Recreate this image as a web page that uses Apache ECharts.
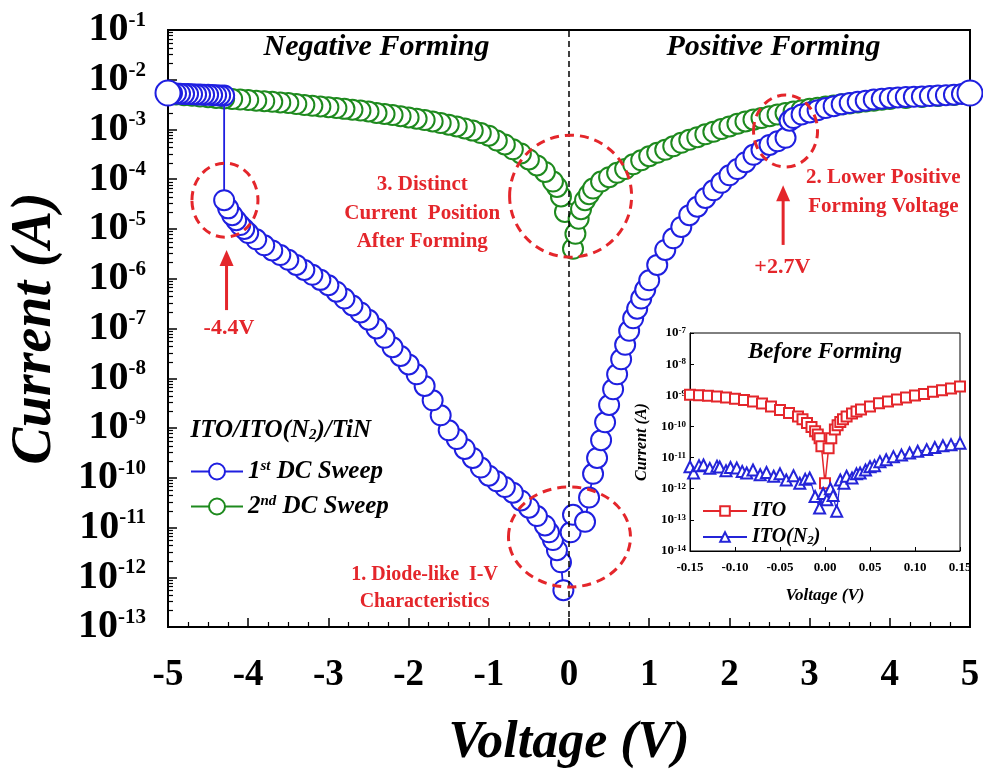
<!DOCTYPE html>
<html><head><meta charset="utf-8">
<script src="https://cdn.jsdelivr.net/npm/echarts@6/dist/echarts.min.js"></script>
<style>html,body{margin:0;padding:0;background:#fff}#c{width:983px;height:777px}</style>
</head><body><div id="c"></div>
<script>
// ---------------- data ----------------
// Main chart: 1st DC sweep (blue), negative branch (0 -> -5 V, forming at -4.3 V)
const blueNegV = [-0.07,-0.1,-0.15,-0.2,-0.25,-0.3,-0.4,-0.5,-0.6,-0.7,-0.8,-0.9,-1.0,-1.1,-1.2,-1.3,-1.4,-1.5,-1.6,-1.7,-1.8,-1.9,-2.0,-2.1,-2.2,-2.3,-2.4,-2.5,-2.6,-2.7,-2.8,-2.9,-3.0,-3.1,-3.2,-3.3,-3.4,-3.5,-3.6,-3.7,-3.8,-3.9,-4.0,-4.05,-4.1,-4.15,-4.2,-4.25,-4.3,-4.3,-4.35,-4.4,-4.45,-4.5,-4.55,-4.6,-4.65,-4.7,-4.75,-4.8,-4.85,-4.9,-4.95,-5.0];
const blueNegI = [5.5e-13,2e-12,3.5e-12,5.6e-12,8e-12,1.1e-11,1.7e-11,2.5e-11,3.5e-11,5e-11,6.5e-11,8.5e-11,1.1e-10,1.6e-10,2.5e-10,3.8e-10,6e-10,9e-10,1.8e-9,3.6e-9,7e-9,1.2e-8,1.9e-8,2.8e-8,4.2e-8,6.5e-8,1e-7,1.5e-7,2.1e-7,2.9e-7,4e-7,5.5e-7,7.4e-7,9.5e-7,1.2e-6,1.5e-6,1.9e-6,2.4e-6,3e-6,3.7e-6,4.7e-6,6.2e-6,8.3e-6,1e-5,1.2e-5,1.5e-5,1.9e-5,2.6e-5,3.8e-5,4.8e-3,4.85e-3,4.9e-3,4.95e-3,5e-3,5.02e-3,5.05e-3,5.08e-3,5.1e-3,5.15e-3,5.2e-3,5.25e-3,5.3e-3,5.35e-3,5.4e-3];
// 1st DC sweep (blue), positive branch (0 -> +5 V, forming at +2.7 V)
const bluePosV = [0.02,0.05,0.2,0.25,0.3,0.35,0.4,0.45,0.5,0.55,0.6,0.65,0.7,0.75,0.8,0.85,0.9,0.95,1.0,1.1,1.2,1.3,1.4,1.5,1.6,1.7,1.8,1.9,2.0,2.1,2.2,2.3,2.4,2.5,2.6,2.7,2.75,2.8,2.9,3.0,3.1,3.2,3.3,3.4,3.5,3.6,3.7,3.8,3.9,4.0,4.1,4.2,4.3,4.4,4.5,4.6,4.7,4.8,4.9,5.0];
const bluePosI = [8e-12,1.8e-11,1.3e-11,4e-11,1.2e-10,2.5e-10,5.7e-10,1.3e-9,2.9e-9,6e-9,1.2e-8,2.4e-8,4.7e-8,9e-8,1.6e-7,2.5e-7,4e-7,6e-7,9.3e-7,1.9e-6,3.8e-6,6.5e-6,1.1e-5,1.9e-5,2.8e-5,4.2e-5,6e-5,8.5e-5,1.2e-4,1.6e-4,2.2e-4,3.1e-4,3.9e-4,4.9e-4,5.8e-4,6.8e-4,1.5e-3,1.7e-3,2e-3,2.2e-3,2.45e-3,2.7e-3,2.95e-3,3.2e-3,3.4e-3,3.6e-3,3.8e-3,4e-3,4.15e-3,4.3e-3,4.4e-3,4.5e-3,4.55e-3,4.6e-3,4.7e-3,4.8e-3,4.9e-3,5e-3,5.2e-3,5.4e-3];
// 2nd DC sweep (green)
const greenNegV = [-0.05,-0.1,-0.15,-0.2,-0.3,-0.4,-0.5,-0.6,-0.7,-0.8,-0.9,-1.0,-1.1,-1.2,-1.3,-1.4,-1.5,-1.6,-1.7,-1.8,-1.9,-2.0,-2.1,-2.2,-2.3,-2.4,-2.5,-2.6,-2.7,-2.8,-2.9,-3.0,-3.1,-3.2,-3.3,-3.4,-3.5,-3.6,-3.7,-3.8,-3.9,-4.0,-4.1,-4.2,-4.3,-4.4,-4.5,-4.6,-4.7,-4.8,-4.9,-5.0];
const greenNegI = [2.2e-5,4.5e-5,7e-5,9e-5,1.4e-4,1.9e-4,2.5e-4,3.3e-4,4e-4,5e-4,6e-4,7.5e-4,8.5e-4,9.5e-4,1.05e-3,1.15e-3,1.25e-3,1.35e-3,1.45e-3,1.55e-3,1.65e-3,1.75e-3,1.85e-3,1.95e-3,2.05e-3,2.15e-3,2.3e-3,2.4e-3,2.5e-3,2.6e-3,2.7e-3,2.8e-3,2.9e-3,3e-3,3.1e-3,3.25e-3,3.4e-3,3.5e-3,3.6e-3,3.7e-3,3.8e-3,3.9e-3,4e-3,4.1e-3,4.2e-3,4.3e-3,4.45e-3,4.6e-3,4.75e-3,4.9e-3,5.05e-3,5.2e-3];
const greenPosV = [0.05,0.08,0.12,0.15,0.2,0.25,0.3,0.4,0.5,0.6,0.7,0.8,0.9,1.0,1.1,1.2,1.3,1.4,1.5,1.6,1.7,1.8,1.9,2.0,2.1,2.2,2.3,2.4,2.5,2.6,2.7,2.8,2.9,3.0,3.1,3.2,3.3,3.4,3.5,3.6,3.7,3.8,3.9,4.0,4.2,4.4,4.6,4.8,5.0];
const greenPosI = [4e-6,8e-6,1.6e-5,2.5e-5,3.8e-5,5e-5,6.5e-5,9e-5,1.1e-4,1.35e-4,1.6e-4,2e-4,2.4e-4,2.9e-4,3.4e-4,3.9e-4,4.6e-4,5.4e-4,6.2e-4,7e-4,8e-4,9e-4,1.02e-3,1.15e-3,1.3e-3,1.45e-3,1.58e-3,1.7e-3,1.85e-3,2e-3,2.15e-3,2.3e-3,2.45e-3,2.6e-3,2.75e-3,2.9e-3,3.05e-3,3.2e-3,3.35e-3,3.5e-3,3.65e-3,3.8e-3,3.95e-3,4.1e-3,4.3e-3,4.5e-3,4.7e-3,4.95e-3,5.2e-3];
// Inset: before forming
const itoV = [-0.15,-0.14,-0.13,-0.12,-0.11,-0.10,-0.09,-0.08,-0.07,-0.06,-0.05,-0.04,-0.03,-0.025,-0.02,-0.015,-0.011,-0.008,-0.006,-0.004,0.0,0.004,0.007,0.011,0.014,0.017,0.02,0.024,0.03,0.035,0.04,0.05,0.06,0.07,0.08,0.09,0.10,0.11,0.12,0.13,0.14,0.15];
const itoI = [1.05e-9,1e-9,9.6e-10,9.2e-10,8.5e-10,7.8e-10,7e-10,6.3e-10,5.4e-10,4.4e-10,3.4e-10,2.7e-10,2.1e-10,1.7e-10,1.3e-10,9.5e-11,7e-11,5.5e-11,4.2e-11,2.3e-11,1.5e-12,2e-11,4.2e-11,8e-11,1.1e-10,1.4e-10,1.7e-10,2.1e-10,2.6e-10,3e-10,3.5e-10,4.4e-10,5.5e-10,6.3e-10,7.3e-10,8.5e-10,9.8e-10,1.1e-9,1.3e-9,1.45e-9,1.65e-9,1.9e-9];
const itoN2V = [-0.15,-0.146,-0.14,-0.135,-0.128,-0.12,-0.117,-0.11,-0.105,-0.098,-0.092,-0.087,-0.08,-0.072,-0.065,-0.057,-0.05,-0.043,-0.035,-0.028,-0.022,-0.017,-0.011,-0.006,-0.002,0.002,0.006,0.009,0.013,0.017,0.021,0.024,0.03,0.035,0.039,0.045,0.05,0.055,0.061,0.068,0.076,0.085,0.094,0.103,0.113,0.122,0.131,0.14,0.15];
const itoN2I = [5.1e-12,3.2e-12,5.5e-12,5.8e-12,4.5e-12,5.3e-12,5e-12,3.8e-12,4.8e-12,4.6e-12,3.6e-12,3.2e-12,4e-12,2.8e-12,3.3e-12,2.5e-12,3e-12,1.9e-12,2.6e-12,1.5e-12,2e-12,2.2e-12,5.6e-13,2.4e-13,7e-13,4.4e-13,1e-12,6e-13,1.9e-13,1.9e-12,1.5e-12,2.5e-12,2.2e-12,3e-12,3.2e-12,4e-12,5.1e-12,5.5e-12,7.4e-12,8.5e-12,1.07e-11,1.2e-11,1.4e-11,1.6e-11,1.8e-11,2.1e-11,2.4e-11,2.6e-11,2.9e-11];
// axis ranges
const mainXRange = [-5, 5];
const mainYRange = [1e-13, 1e-1];
const insetXRange = [-0.15, 0.15];
const insetYRange = [1e-14, 1e-7];
const seriesNames = ['1st DC Sweep', '2nd DC Sweep'];
const insetNames = ['ITO', 'ITO(N2)'];

// ---------------- chart ----------------
const FONT = '"Liberation Serif","Times New Roman",serif';
const BLUE = '#1f1fe0', GREEN = '#1e8a1e', RED = '#e4262b', IBLUE = '#2424d8';
const zip = (a, b) => a.map((v, k) => [v, b[k]]);
const chart = echarts.init(document.getElementById('c'), null, {renderer: 'canvas'});

const expLabel = (base, sup) => ({
  formatter: v => '{b|10}{s|' + Math.round(Math.log10(v)) + '}',
  rich: {
    b: {fontFamily: FONT, fontWeight: 'bold', fontSize: base, color: '#000', verticalAlign: 'bottom'},
    s: {fontFamily: FONT, fontWeight: 'bold', fontSize: sup, color: '#000', verticalAlign: 'top'}
  }
});

const mainSeries = (name, v, i, color, bigEnds, z) => ({
  type: 'line', name, xAxisIndex: 0, yAxisIndex: 0, z,
  data: zip(v, i), symbol: 'emptyCircle', showSymbol: true, showAllSymbol: true,
  symbolSize: (val, p) => (bigEnds && (p.dataIndex === v.length - 1)) ? 25 : 20,
  itemStyle: {color, borderColor: color, borderWidth: 1.6},
  lineStyle: {color, width: 1.8}, emphasis: {disabled: true}, animation: false
});

const option = {
  backgroundColor: '#fff',
  animation: false,
  grid: [
    {left: 167, top: 30, width: 803, height: 597, show: true, borderColor: '#000', borderWidth: 2, containLabel: false},
    {left: 690, top: 333, width: 270, height: 218, show: true, borderColor: '#000', borderWidth: 1, backgroundColor: 'transparent'}
  ],
  xAxis: [
    {type: 'value', gridIndex: 0, min: mainXRange[0], max: mainXRange[1], interval: 1,
     axisLine: {onZero: false, lineStyle: {color: '#000', width: 2}},
     axisTick: {inside: true, length: 9, lineStyle: {color: '#000', width: 1.5}},
     minorTick: {show: true, splitNumber: 4, length: 5, lineStyle: {color: '#000', width: 1.2}},
     splitLine: {show: false},
     axisLabel: {margin: 30, fontFamily: FONT, fontWeight: 'bold', fontSize: 37, color: '#000'},
     name: 'Voltage (V)', nameLocation: 'middle', nameGap: 91,
     nameTextStyle: {fontFamily: FONT, fontWeight: 'bold', fontStyle: 'italic', fontSize: 52, color: '#000'}},
    {type: 'value', gridIndex: 1, min: insetXRange[0], max: insetXRange[1], interval: 0.05,
     axisLine: {onZero: false, lineStyle: {color: '#000', width: 1}},
     axisTick: {inside: true, length: 4, lineStyle: {color: '#000'}},
     splitLine: {show: false},
     axisLabel: {margin: 10, fontFamily: FONT, fontWeight: 'bold', fontSize: 13, color: '#000',
       formatter: v => v.toFixed(2)},
     name: 'Voltage (V)', nameLocation: 'middle', nameGap: 36,
     nameTextStyle: {fontFamily: FONT, fontWeight: 'bold', fontStyle: 'italic', fontSize: 17, color: '#000'}}
  ],
  yAxis: [
    {type: 'log', gridIndex: 0, logBase: 10, min: mainYRange[0], max: mainYRange[1], interval: 1, splitNumber: 12,
     axisLine: {show: true, onZero: false, lineStyle: {color: '#000', width: 2}},
     axisTick: {show: true, inside: true, length: 9, lineStyle: {color: '#000', width: 1.5}},
     minorTick: {show: true, splitNumber: 8, length: 5, lineStyle: {color: '#000', width: 1.2}},
     splitLine: {show: false},
     axisLabel: Object.assign({margin: 22}, expLabel(40, 21)),
     name: 'Current (A)', nameLocation: 'middle', nameGap: 104, nameRotate: 90,
     nameTextStyle: {fontFamily: FONT, fontWeight: 'bold', fontStyle: 'italic', fontSize: 56, color: '#000'}},
    {type: 'log', gridIndex: 1, logBase: 10, min: insetYRange[0], max: insetYRange[1], interval: 1, splitNumber: 7,
     axisLine: {show: true, onZero: false, lineStyle: {color: '#000', width: 1}},
     axisTick: {show: true, inside: true, length: 4, lineStyle: {color: '#000'}},
     splitLine: {show: false},
     axisLabel: Object.assign({margin: 4}, expLabel(13, 9)),
     name: 'Current (A)', nameLocation: 'middle', nameGap: 40, nameRotate: 90,
     nameTextStyle: {fontFamily: FONT, fontWeight: 'bold', fontStyle: 'italic', fontSize: 16, color: '#000'}}
  ],
  legend: [
    {data: seriesNames, orient: 'vertical', left: 185, top: 454, itemWidth: 52, itemHeight: 20, itemGap: 10,
     selectedMode: false,
     textStyle: {fontFamily: FONT, fontSize: 25, fontWeight: 'bold', fontStyle: 'italic', color: '#000',
       rich: {n: {fontFamily: FONT, fontSize: 25, fontWeight: 'bold', fontStyle: 'italic', color: '#000', verticalAlign: 'bottom'},
              s: {fontFamily: FONT, fontSize: 15, fontWeight: 'bold', fontStyle: 'italic', color: '#000', verticalAlign: 'top'}}},
     formatter: n => n.startsWith('1st') ? '{n|1}{s|st}{n| DC Sweep}' : '{n|2}{s|nd}{n| DC Sweep}'},
    {data: insetNames, orient: 'vertical', left: 697, top: 496, itemWidth: 44, itemHeight: 12, itemGap: 6,
     selectedMode: false,
     textStyle: {fontFamily: FONT, fontSize: 20, fontWeight: 'bold', fontStyle: 'italic', color: '#000',
       rich: {n: {fontFamily: FONT, fontSize: 20, fontWeight: 'bold', fontStyle: 'italic', color: '#000', verticalAlign: 'top'},
              b: {fontFamily: FONT, fontSize: 13, fontWeight: 'bold', fontStyle: 'italic', color: '#000', verticalAlign: 'bottom'}}},
     formatter: n => n === 'ITO(N2)' ? '{n|ITO(N}{b|2}{n|)}' : '{n|ITO}'}
  ],
  series: [
    mainSeries(seriesNames[1], greenNegV, greenNegI, GREEN, false, 2),
    mainSeries(seriesNames[1], greenPosV, greenPosI, GREEN, false, 2),
    Object.assign(mainSeries(seriesNames[0], blueNegV, blueNegI, BLUE, true, 3), {
      markLine: {silent: true, symbol: ['none', 'none'], label: {show: false},
        lineStyle: {type: [6, 4], color: '#000', width: 1.5}, data: [{xAxis: 0}]}
    }),
    mainSeries(seriesNames[0], bluePosV, bluePosI, BLUE, true, 3),
    {type: 'line', name: insetNames[0], xAxisIndex: 1, yAxisIndex: 1, data: zip(itoV, itoI),
     symbol: 'emptyRect', symbolSize: 10, showAllSymbol: true, z: 5,
     itemStyle: {color: RED, borderColor: RED, borderWidth: 1.2}, lineStyle: {color: RED, width: 1.5}},
    {type: 'line', name: insetNames[1], xAxisIndex: 1, yAxisIndex: 1, data: zip(itoN2V, itoN2I),
     symbol: 'emptyTriangle', symbolSize: 11, showAllSymbol: true, z: 5,
     itemStyle: {color: IBLUE, borderColor: IBLUE, borderWidth: 1.2}, lineStyle: {color: IBLUE, width: 1.2}}
  ]
};
chart.setOption(option);

// ---------------- annotations anchored in data coordinates ----------------
const px = (v, i) => chart.convertToPixel({gridIndex: 0}, [v, i]);
const redText = (str, at, size) => {
  const p = px(at[0], at[1]);
  return {type: 'text', x: p[0], y: p[1], z: 10,
    style: {text: str, fill: RED, font: 'bold ' + size + 'px ' + FONT, align: 'center', verticalAlign: 'middle', lineHeight: size * 1.35}};
};
const ring = (at, rx, ry) => {
  const p = px(at[0], at[1]);
  return {type: 'ellipse', z: 10, shape: {cx: p[0], cy: p[1], rx, ry},
    style: {fill: 'none', stroke: RED, lineWidth: 3, lineDash: [9, 6]}};
};
const arrow = (v, i0, i1) => {
  const a = px(v, i0), b = px(v, i1);
  return [
    {type: 'line', z: 10, shape: {x1: a[0], y1: a[1], x2: b[0], y2: b[1] + 12}, style: {stroke: RED, lineWidth: 3}},
    {type: 'polygon', z: 10, shape: {points: [[b[0], b[1]], [b[0] - 7, b[1] + 16], [b[0] + 7, b[1] + 16]]}, style: {fill: RED}}
  ];
};
const blackText = (str, at, size) => {
  const p = px(at[0], at[1]);
  return {type: 'text', x: p[0], y: p[1], z: 10,
    style: {text: str, fill: '#000', font: 'italic bold ' + size + 'px ' + FONT, align: 'center', verticalAlign: 'middle'}};
};
const g = [
  blackText('Negative Forming', [-2.4, Math.pow(10, -1.34)], 30),
  blackText('Positive Forming', [2.55, Math.pow(10, -1.34)], 30),
  ring([-4.29, Math.pow(10, -4.42)], 33, 37),
  ring([0.02, Math.pow(10, -4.34)], 61, 61),
  ring([2.7, Math.pow(10, -3.03)], 32, 36),
  ring([0.006, Math.pow(10, -11.19)], 61, 50),
  ...arrow(-4.27, Math.pow(10, -6.63), Math.pow(10, -5.42)),
  ...arrow(2.67, Math.pow(10, -5.32), Math.pow(10, -4.12)),
  redText('-4.4V', [-4.24, Math.pow(10, -6.99)], 22),
  redText('+2.7V', [2.66, Math.pow(10, -5.78)], 22),
  redText('3. Distinct\nCurrent  Position\nAfter Forming', [-1.83, Math.pow(10, -4.68)], 21),
  redText('2. Lower Positive\nForming Voltage', [3.92, Math.pow(10, -4.26)], 21),
  redText('1. Diode-like  I-V\nCharacteristics', [-1.8, Math.pow(10, -12.22)], 20),
  (() => { const p = px(-4.72, Math.pow(10, -9.05)); return {type: 'text', x: p[0], y: p[1], z: 10,
    style: {text: '{n|ITO/ITO(N}{b|2}{n|)/TiN}', verticalAlign: 'middle', align: 'left',
      rich: {n: {fontFamily: FONT, fontSize: 25, fontWeight: 'bold', fontStyle: 'italic', fill: '#000', color: '#000', verticalAlign: 'top'},
             b: {fontFamily: FONT, fontSize: 15, fontWeight: 'bold', fontStyle: 'italic', fill: '#000', color: '#000', verticalAlign: 'bottom'}}}}; })(),
  (() => { const p = chart.convertToPixel({gridIndex: 1}, [0.0, Math.pow(10, -7.62)]); return {type: 'text', x: p[0], y: p[1], z: 10,
    style: {text: 'Before Forming', fill: '#000', font: 'italic bold 23px ' + FONT, align: 'center', verticalAlign: 'middle'}}; })()
];
chart.setOption({graphic: g});
</script></body></html>
